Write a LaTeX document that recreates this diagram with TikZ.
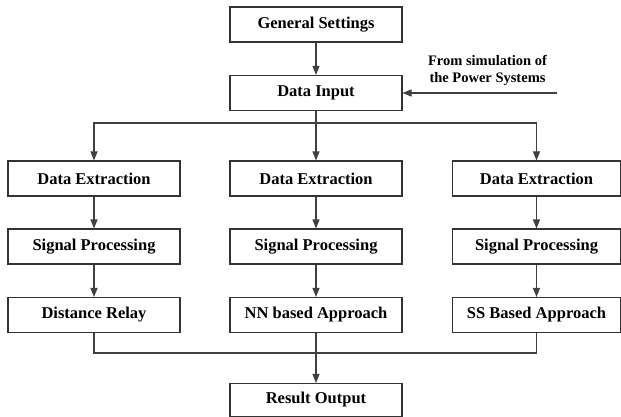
\documentclass[tikz,border=0pt]{standalone}
\usepackage{fontspec}
\setmainfont{Liberation Serif}
\usetikzlibrary{arrows.meta}
\begin{document}
\begin{tikzpicture}[x=1pt,y=-1pt,
  blk/.style={draw=black!80, line width=1.1pt, minimum width=172pt, minimum height=35pt,
    inner sep=0pt, font=\bfseries\fontsize{16.5}{18}\selectfont},
  flow/.style={draw=black!75, line width=1.1pt, -{Triangle[length=9pt,width=7pt]}},
  link/.style={draw=black!75, line width=1.1pt},
  note/.style={inner sep=0pt, align=center, font=\bfseries\fontsize{14.5}{16.5}\selectfont}]
\useasboundingbox (0,0) rectangle (621,417);

% top of the chain
\node[blk] (gs) at (316,24.5) {General Settings};
\node[blk] (di) at (316,93) {Data Input};
\node[note, anchor=south] (src) at (487.5,85.5) {From simulation of\\the Power Systems};
\coordinate (srcend) at (557,93);

% three processing columns
\node[blk] (de1) at (94,178.5) {Data Extraction};
\node[blk] (de2) at (316,178.5) {Data Extraction};
\node[blk, minimum width=168pt] (de3) at (536.5,178.5) {Data Extraction};
\node[blk] (sp1) at (94,246.5) {Signal Processing};
\node[blk] (sp2) at (316,246.5) {Signal Processing};
\node[blk, minimum width=168pt] (sp3) at (536.5,246.5) {Signal Processing};
\node[blk] (out1) at (94,315) {Distance Relay};
\node[blk] (out2) at (316,315) {NN based Approach};
\node[blk, minimum width=168pt] (out3) at (536.5,315) {SS Based Approach};

% final result
\node[blk, minimum height=33pt] (res) at (316,400) {Result Output};

\coordinate (split) at (316,123);
\coordinate (merge) at (316,353);

\draw[flow] (gs) -- (di);
\draw[flow] (srcend) -- (di.east);
\draw[link] (di.south) -- (split);
\draw[flow] (split) -| (de1.north);
\draw[flow] (split) -| (de3.north);
\draw[flow] (split) -- (de2.north);

\draw[flow] (de1) -- (sp1);
\draw[flow] (de2) -- (sp2);
\draw[flow] (de3) -- (sp3);
\draw[flow] (sp1) -- (out1);
\draw[flow] (sp2) -- (out2);
\draw[flow] (sp3) -- (out3);

\draw[link] (out1.south) |- (merge) -| (out3.south);
\draw[flow] (out2.south) -- (res.north);
\end{tikzpicture}
\end{document}
